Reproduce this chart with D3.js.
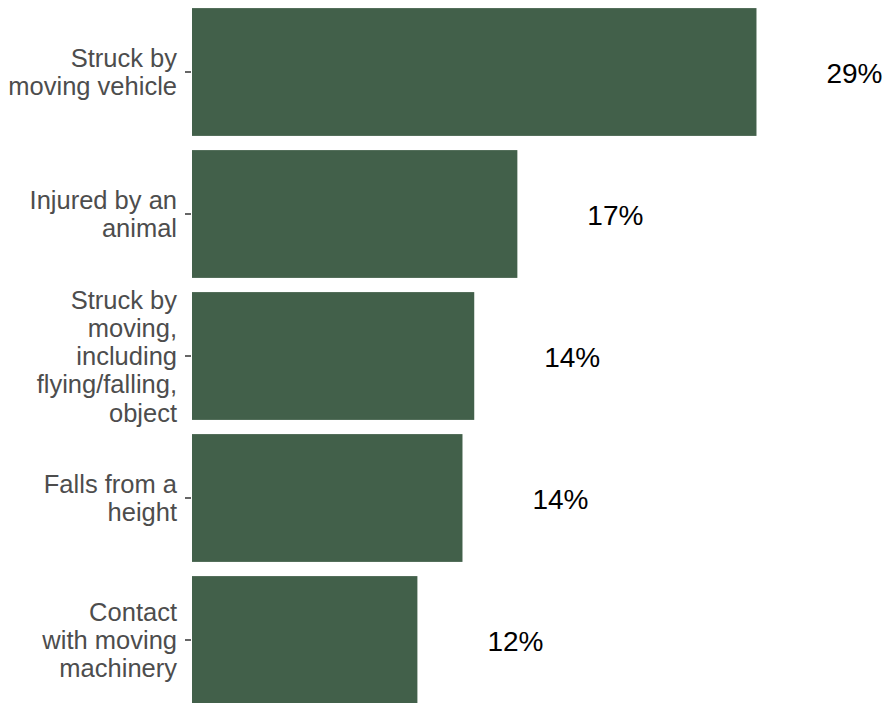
<!DOCTYPE html>
<html>
<head>
<meta charset="utf-8">
<script src="https://cdnjs.cloudflare.com/ajax/libs/d3/7.8.5/d3.min.js"></script>
<style>
  body { margin: 0; background: #fff; }
  svg { display: block; }
</style>
</head>
<body>
<svg></svg>
<script>
// chart data
var categories = [
  ["Struck by", "moving vehicle"],
  ["Injured by an", "animal"],
  ["Struck by", "moving,", "including", "flying/falling,", "object"],
  ["Falls from a", "height"],
  ["Contact", "with moving", "machinery"]
];
var values = [28.8, 16.6, 14.4, 13.8, 11.5];
var labels = ["29%", "17%", "14%", "14%", "12%"];

var svgWidth = 886;
var svgHeight = 703;
var svg = d3.select("svg")
            .attr("width", svgWidth)
            .attr("height", svgHeight);

var ids = d3.range(categories.length);

// scales
var x = d3.scaleLinear()
          .domain([0, 30])
          .range([192, 192 + 30 * 19.6]);

var y = d3.scaleBand()
          .domain(ids)
          .range([1, 711])
          .paddingInner(0.1)
          .paddingOuter(0.05);

// bars
svg.selectAll("rect.bar")
   .data(ids)
   .enter()
   .append("rect")
   .attr("class", "bar")
   .attr("x", x(0))
   .attr("y", function(i){ return y(i); })
   .attr("width", function(i){ return x(values[i]) - x(0); })
   .attr("height", y.bandwidth())
   .style("fill", "#42604a");

// value labels
svg.selectAll("text.val")
   .data(ids)
   .enter()
   .append("text")
   .attr("class", "val")
   .attr("x", function(i){ return x(values[i] + 5); })
   .attr("y", function(i){ return y(i) + y.bandwidth() / 2; })
   .attr("dy", "0.39em")
   .attr("text-anchor", "middle")
   .style("font-family", "'Liberation Sans', Arial, sans-serif")
   .style("font-size", "28px")
   .style("fill", "#000")
   .text(function(i){ return labels[i]; });

// y axis
var axis = d3.axisLeft(y)
             .tickSize(6)
             .tickPadding(8)
             .tickFormat("");

var gAxis = svg.append("g")
               .attr("transform", "translate(" + (x(0) - 1) + ",0)")
               .call(axis);
gAxis.select(".domain").remove();
gAxis.selectAll(".tick line").attr("stroke", "#333").attr("stroke-width", 1.5);

// multi-line category labels
var lineH = 28.3;
gAxis.selectAll(".tick").each(function(i){
  var lines = categories[i];
  var t = d3.select(this).select("text")
            .attr("x", -14)
            .attr("dy", null)
            .attr("y", 0)
            .attr("text-anchor", "end")
            .style("font-family", "'Liberation Sans', Arial, sans-serif")
            .style("font-size", "25.5px")
            .style("fill", "#4d4d4d");
  var off = -(lines.length - 1) / 2 * lineH;
  lines.forEach(function(s, k){
    t.append("tspan")
     .attr("x", -14)
     .attr("y", off + k * lineH)
     .attr("dy", "0.36em")
     .text(s);
  });
});
</script>
</body>
</html>
